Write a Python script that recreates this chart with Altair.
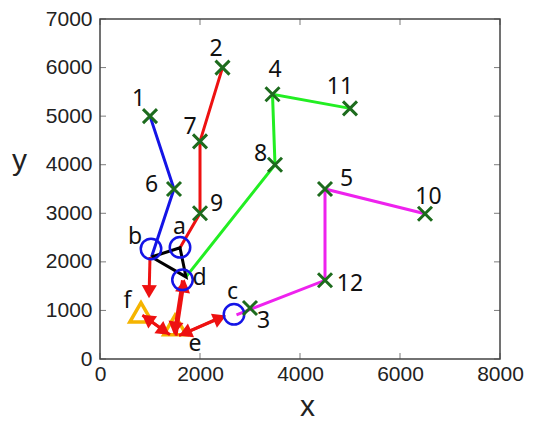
import math
import altair as alt
import pandas as pd

# ---------------- data ----------------
x_ticks = [0, 2000, 4000, 6000, 8000]
y_ticks = [0, 1000, 2000, 3000, 4000, 5000, 6000, 7000]

# numbered points (green crosses)
pt_id = ["1", "2", "3", "4", "5", "6", "7", "8", "9", "10", "11", "12"]
pt_x = [1000, 2450, 3000, 3450, 4500, 1480, 2000, 3500, 2000, 6500, 5000, 4500]
pt_y = [5000, 6000, 1050, 5450, 3500, 3500, 4480, 4000, 3000, 2990, 5160, 1620]
pt_lx = [770, 2320, 3270, 3500, 4930, 1030, 1800, 3210, 2330, 6570, 4800, 5000]
pt_ly = [5350, 6390, 790, 5940, 3700, 3580, 4770, 4220, 3190, 3330, 5590, 1540]

# letter points (blue circles)
let_id = ["a", "b", "c", "d"]
let_x = [1600, 1020, 2680, 1650]
let_y = [2300, 2265, 920, 1630]
let_lx = [1590, 700, 2650, 1990]
let_ly = [2710, 2510, 1370, 1660]

# orange triangles and their letters
tri_id = ["f", "e"]
tri_x = [820, 1500]
tri_y = [960, 700]
tri_lx = [550, 1900]
tri_ly = [1200, 310]

# polylines
blue_x = [1000, 1480, 1030]
blue_y = [5000, 3500, 2100]
red_x = [2450, 2000, 2000, 1600]
red_y = [6000, 4480, 3000, 2290]
green_x = [5000, 3450, 3500, 1720]
green_y = [5160, 5450, 4000, 1690]
magenta_x = [6500, 4500, 4500, 2730]
magenta_y = [2990, 3500, 1620, 910]
black_x = [1030, 1600, 1720, 1030]
black_y = [2100, 2290, 1690, 2100]

# red arrows (tail -> tip)
arr_x1 = [1000, 1400, 850, 1650, 1520, 1580, 2450]
arr_y1 = [2100, 500, 900, 1620, 480, 480, 880]
arr_x2 = [980, 840, 1390, 1480, 1690, 2520, 1580]
arr_y2 = [1250, 910, 500, 500, 1640, 895, 480]

# ---------------- styles ----------------
W, H = 400, 340
PX_X = W / 8000
PX_Y = H / 7000
HEAD = 230
BLUE = "#1414e6"
RED = "#ee1111"
GREEN = "#22ee22"
MAGENTA = "#ee22ee"
DKGREEN = "#1d6b1d"
ORANGE = "#f5b400"
FONT = "Liberation Sans"
LFONT = "Noto Sans"

xscale = alt.Scale(domain=[0, 8000], nice=False, zero=False)
yscale = alt.Scale(domain=[0, 7000], nice=False, zero=False)
xaxis = alt.Axis(values=x_ticks, format="d", title="x", ticks=False, domain=False, grid=False,
                 labelPadding=4, labelFontSize=21, labelFont=FONT, labelColor="#222",
                 labelFlush=False, titleFont=FONT, titleFontSize=30,
                 titleFontWeight="normal", titleColor="#222", titleX=207, titleY=56,
                 titleAlign="center", titleBaseline="alphabetic")
yaxis = alt.Axis(values=y_ticks, format="d", title="y", ticks=False, domain=False, grid=False,
                 labelPadding=8, labelFontSize=21, labelFont=FONT, labelColor="#222",
                 labelFlush=False, titleFont=FONT, titleFontSize=30, titleAngle=0,
                 titleFontWeight="normal", titleColor="#222", titleX=-81, titleY=150,
                 titleAlign="center", titleBaseline="alphabetic")

X = alt.X("x:Q", scale=xscale, axis=xaxis)
Y = alt.Y("y:Q", scale=yscale, axis=yaxis)

# ---------------- tables ----------------
rows = []
for name, xs, ys in [("blue", blue_x, blue_y), ("red", red_x, red_y),
                     ("green", green_x, green_y), ("magenta", magenta_x, magenta_y)]:
    for i, (a, b) in enumerate(zip(xs, ys)):
        rows.append({"s": name, "i": i, "x": a, "y": b})
lines_df = pd.DataFrame(rows)
black_df = pd.DataFrame({"i": range(len(black_x)), "x": black_x, "y": black_y})

h = math.sqrt(3) / 2 * math.sqrt(HEAD) / 2
seg_rows, head_rows = [], []
for x1, y1, x2, y2 in zip(arr_x1, arr_y1, arr_x2, arr_y2):
    dxp = (x2 - x1) * PX_X
    dyp = (y2 - y1) * PX_Y
    L = math.hypot(dxp, dyp)
    ux, uy = dxp / L, dyp / L
    ang = math.degrees(math.atan2(dxp, dyp)) % 360
    cx = x2 - h * ux / PX_X
    cy = y2 - h * uy / PX_Y
    seg_rows.append({"x": x1, "y": y1, "x2": cx, "y2": cy})
    head_rows.append({"x": cx, "y": cy, "ang": ang})
seg_df = pd.DataFrame(seg_rows)
head_df = pd.DataFrame(head_rows)

pts_df = pd.DataFrame({"x": pt_x, "y": pt_y})
circ_df = pd.DataFrame({"x": let_x, "y": let_y})
tri_df = pd.DataFrame({"x": tri_x, "y": tri_y})
lab_df = pd.DataFrame({
    "x": pt_lx + let_lx + tri_lx,
    "y": pt_ly + let_ly + tri_ly,
    "t": pt_id + let_id + tri_id,
})
xt_df = pd.DataFrame({"x": x_ticks})
yt_df = pd.DataFrame({"y": y_ticks})

# ---------------- layers ----------------
lines = alt.Chart(lines_df).mark_line(strokeWidth=3).encode(
    x=X, y=Y, order="i:Q",
    color=alt.Color("s:N", legend=None,
                    scale=alt.Scale(domain=["blue", "red", "green", "magenta"],
                                    range=[BLUE, RED, GREEN, MAGENTA])),
)
black = alt.Chart(black_df).mark_line(strokeWidth=3, color="black").encode(
    x=X, y=Y, order="i:Q")
tris = alt.Chart(tri_df).mark_point(shape="triangle-up", size=500, filled=False,
                                    strokeWidth=3.5, color=ORANGE, opacity=1).encode(x=X, y=Y)
segs = alt.Chart(seg_df).mark_rule(strokeWidth=3, color=RED).encode(
    x=X, y=Y, x2="x2:Q", y2="y2:Q")
heads = alt.Chart(head_df).mark_point(shape="triangle-up", size=HEAD, filled=True,
                                      color=RED, opacity=1).encode(
    x=X, y=Y, angle=alt.Angle("ang:Q", scale=None))
circs = alt.Chart(circ_df).mark_point(shape="circle", size=420, filled=False,
                                      strokeWidth=2.5, color=BLUE, opacity=1).encode(x=X, y=Y)
crosses = alt.Chart(pts_df).mark_point(shape="M-1,-1L1,1M-1,1L1,-1", size=196,
                                       filled=False, strokeWidth=3, color=DKGREEN,
                                       opacity=1).encode(x=X, y=Y)
labels = alt.Chart(lab_df).mark_text(font=LFONT, fontSize=23, color="#111",
                                     align="center", baseline="middle").encode(
    x=X, y=Y, text="t:N")
xt_bot = alt.Chart(xt_df).mark_tick(size=6, thickness=1, color="#444", orient="vertical").encode(
    x=X, y=alt.value(H - 3))
xt_top = alt.Chart(xt_df).mark_tick(size=6, thickness=1, color="#444", orient="vertical").encode(
    x=X, y=alt.value(3))
yt_left = alt.Chart(yt_df).mark_tick(size=6, thickness=1, color="#444", orient="horizontal").encode(
    y=Y, x=alt.value(3))
yt_right = alt.Chart(yt_df).mark_tick(size=6, thickness=1, color="#444", orient="horizontal").encode(
    y=Y, x=alt.value(W - 3))

chart = alt.layer(
    lines, black, tris, segs, heads, circs, crosses, labels,
    xt_bot, xt_top, yt_left, yt_right,
).properties(
    width=W, height=H,
    autosize=alt.AutoSizeParams(type="none"),
    padding={"left": 92, "top": 11, "right": 26, "bottom": 62},
).configure_view(
    stroke="#444", strokeWidth=1.5
)

chart.save("out.html", embed_options={"renderer": "svg", "actions": False})
